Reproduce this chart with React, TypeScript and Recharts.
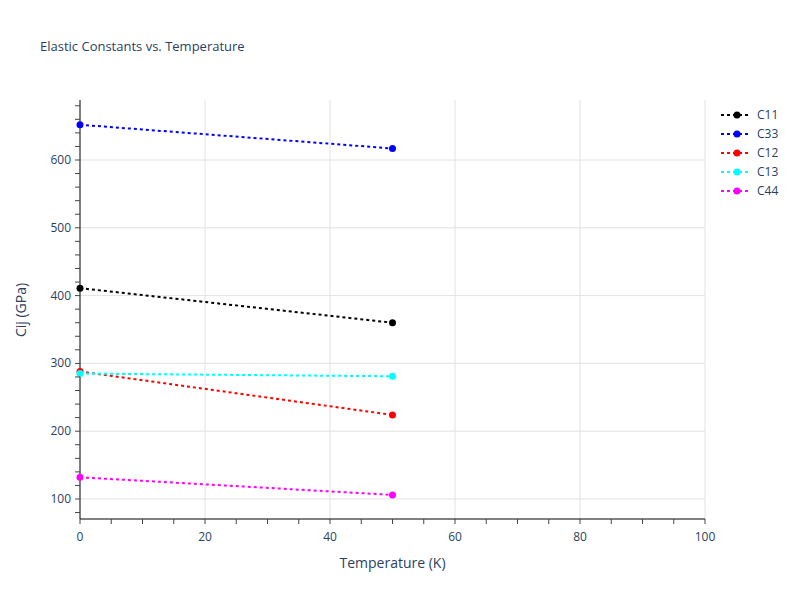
import { LineChart, Line, XAxis, YAxis, ReferenceLine } from 'recharts';

const temperatures = [0, 50];
const c11 = [411, 360];
const c33 = [652, 617];
const c12 = [288, 224];
const c13 = [285, 281];
const c44 = [132, 106];

const seriesNames = ['C11', 'C33', 'C12', 'C13', 'C44'];
const seriesColors = ['#000000', '#0000ff', '#ff0000', '#00ffff', '#ff00ff'];
const seriesValues = [c11, c33, c12, c13, c44];

const xTicks = Array.from({ length: 21 }, (_, i) => i * 5);
const yTicks = Array.from({ length: 31 }, (_, i) => 80 + i * 20);
const xGrid = [20, 40, 60, 80, 100];
const yGrid = [100, 200, 300, 400, 500, 600];

const rows = temperatures.map((t, i) => {
  const row: Record<string, number> = { t };
  seriesNames.forEach((n, k) => {
    row[n] = seriesValues[k][i];
  });
  return row;
});

const FONT = '"Open Sans", verdana, arial, sans-serif';
const TEXT = '#2a3f5f';

const XTick = (p: any) => {
  const v = p.payload.value;
  return (
    <g>
      <line x1={p.x} x2={p.x} y1={p.y} y2={p.y + 5} stroke="#444" />
      {v % 20 === 0 && (
        <text x={p.x} y={p.y + 22} textAnchor="middle" fontSize={12} fill={TEXT} fontFamily={FONT}>
          {v}
        </text>
      )}
    </g>
  );
};

const YTick = (p: any) => {
  const v = p.payload.value;
  return (
    <g>
      <line x1={p.x - 5} x2={p.x} y1={p.y} y2={p.y} stroke="#444" />
      {v % 100 === 0 && (
        <text x={p.x - 9} y={p.y + 4} textAnchor="end" fontSize={12} fill={TEXT} fontFamily={FONT}>
          {v}
        </text>
      )}
    </g>
  );
};

const LegendBox = () => (
  <div style={{ position: 'absolute', left: 720, top: 105, fontFamily: FONT, fontSize: 12, color: TEXT }}>
    {seriesNames.map((n, i) => (
      <div key={n} style={{ display: 'flex', alignItems: 'center', height: 19 }}>
        <svg width={37} height={12}>
          <line x1={1} x2={31} y1={6} y2={6} stroke={seriesColors[i]} strokeWidth={2} strokeDasharray="3 3" />
          <circle cx={17} cy={6} r={3.5} fill={seriesColors[i]} />
        </svg>
        <span>{n}</span>
      </div>
    ))}
  </div>
);

export default function App() {
  return (
    <div style={{ position: 'absolute', left: 0, top: 0, width: 800, height: 600, background: '#fff' }}>
      <div style={{ position: 'absolute', left: 40, top: 37, fontFamily: FONT, fontSize: 13, color: TEXT }}>
        Elastic Constants vs. Temperature
      </div>
      <div style={{ position: 'absolute', left: 0, top: 553, width: 785, textAlign: 'center', fontFamily: FONT, fontSize: 14, color: TEXT }}>
        Temperature (K)
      </div>
      <div
        style={{
          position: 'absolute', left: 20, top: 310, fontFamily: FONT, fontSize: 14, color: TEXT,
          transform: 'translate(-50%, -50%) rotate(-90deg)', whiteSpace: 'nowrap',
        }}
      >
        Cij (GPa)
      </div>
      <LegendBox />
      <LineChart width={800} height={600} data={rows} margin={{ top: 100, right: 95, bottom: 0, left: 40 }}>
        {xGrid.map((x) => (
          <ReferenceLine key={'x' + x} x={x} stroke="#e2e2e2" strokeWidth={1} />
        ))}
        {yGrid.map((y) => (
          <ReferenceLine key={'y' + y} y={y} stroke="#e2e2e2" strokeWidth={1} />
        ))}
        <XAxis
          dataKey="t"
          type="number"
          domain={[0, 100]}
          ticks={xTicks}
          interval={0}
          height={81}
          tickSize={0}
          tickMargin={0}
          tickLine={false}
          axisLine={{ stroke: '#000' }}
          tick={<XTick />}
        />
        <YAxis
          type="number"
          domain={[70.5, 688.5]}
          ticks={yTicks}
          interval={0}
          width={40}
          tickSize={0}
          tickMargin={0}
          tickLine={false}
          axisLine={{ stroke: '#000' }}
          tick={<YTick />}
          allowDataOverflow
        />
        {seriesNames.map((n, i) => (
          <Line
            key={n}
            dataKey={n}
            type="linear"
            stroke={seriesColors[i]}
            strokeWidth={2}
            strokeDasharray="3 3"
            dot={{ r: 3.5, fill: seriesColors[i], stroke: seriesColors[i], strokeWidth: 0 }}
            activeDot={false}
            isAnimationActive={false}
          />
        ))}
      </LineChart>
    </div>
  );
}
